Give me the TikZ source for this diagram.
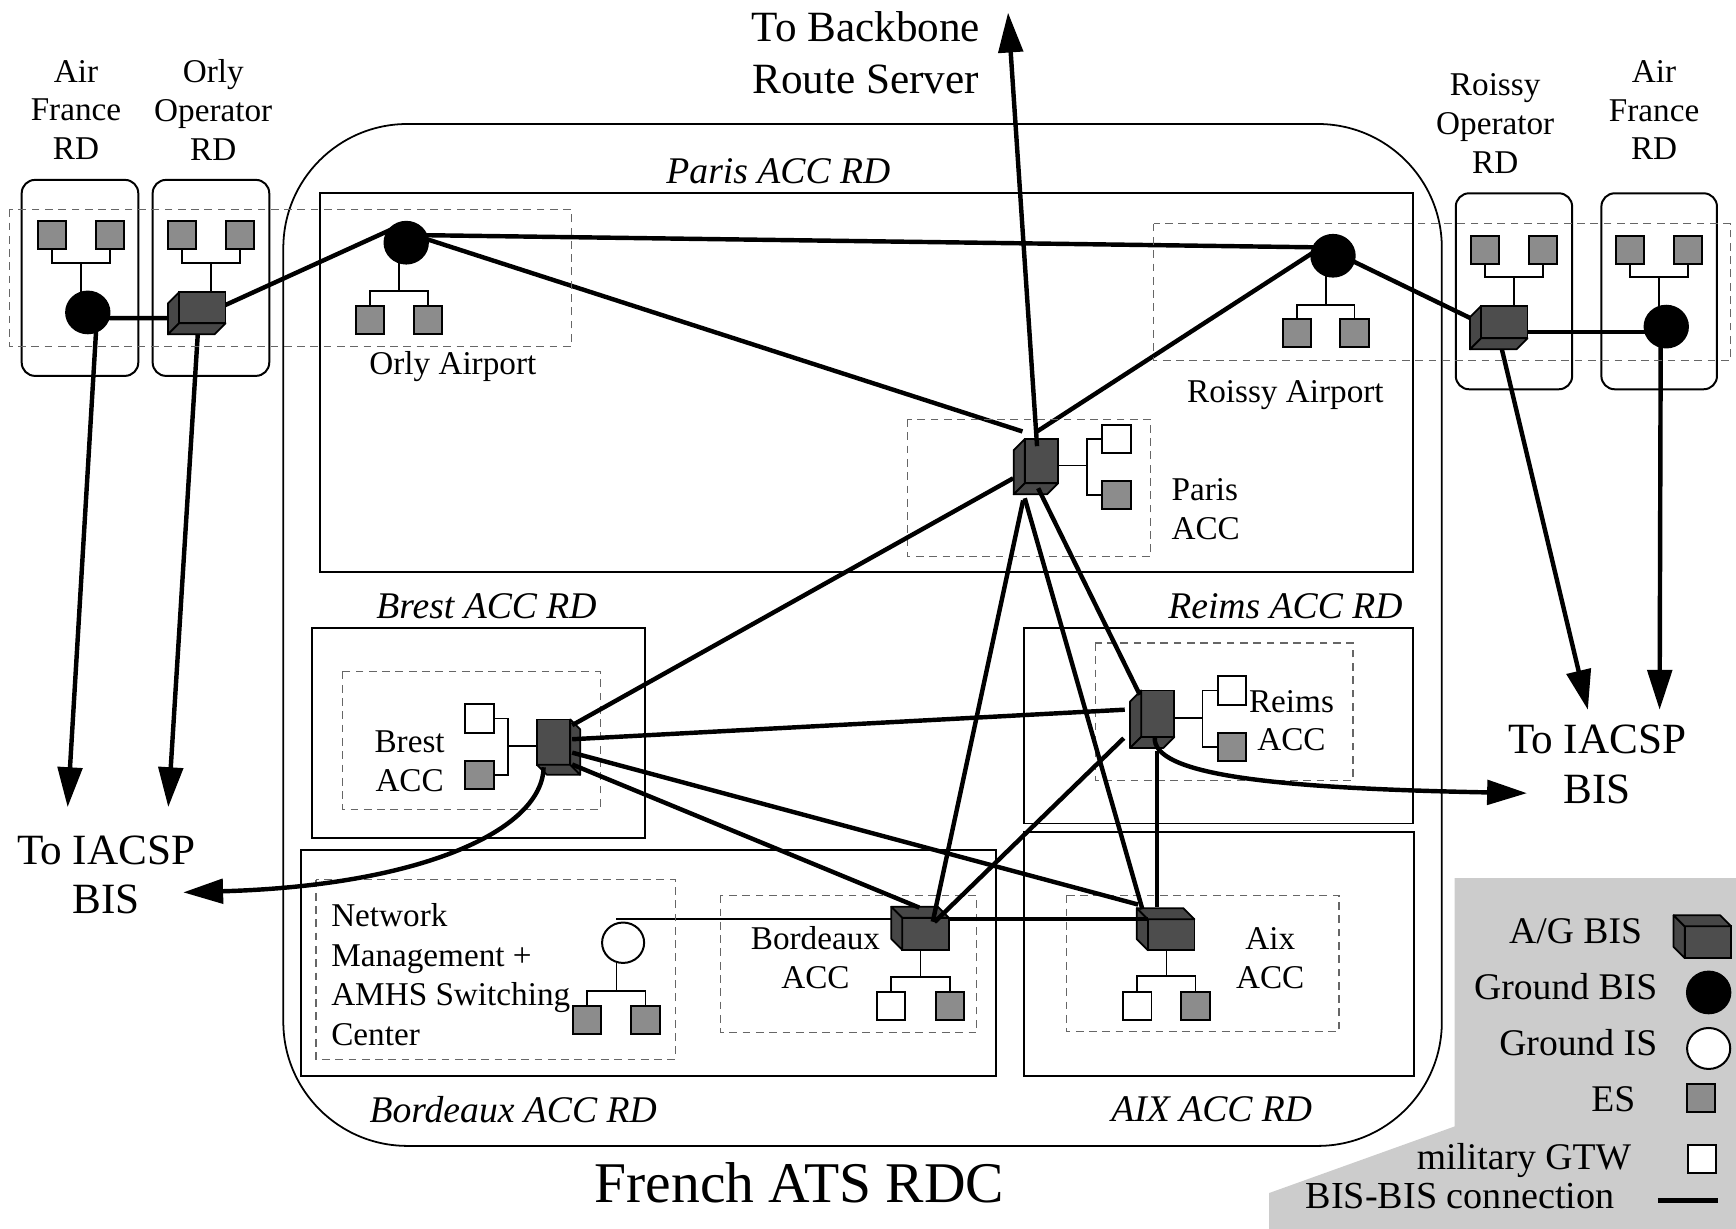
\documentclass[tikz,border=0pt]{standalone}
\usepackage{fontspec}
\setmainfont{Liberation Serif}
\usetikzlibrary{calc,arrows.meta,shapes.geometric}
\pgfdeclarelayer{bg}
\pgfsetlayers{bg,main}
\definecolor{esgray}{HTML}{8C8C8C}
\definecolor{cubegray}{HTML}{4D4D4D}
\definecolor{cubeside}{HTML}{474747}
\definecolor{leggray}{HTML}{CCCCCC}
\definecolor{dashgray}{HTML}{666666}
\tikzset{
 rdbox/.style={draw, line width=1.8pt},
 dashbox/.style={draw=dashgray, line width=1.1pt, dash pattern=on 7pt off 5pt},
 bisln/.style={line width=4pt},
 treeln/.style={line width=1.6pt},
 es/.style={draw, fill=esgray, line width=1.8pt, minimum size=25.5pt, inner sep=0pt, outer sep=0pt},
 gtw/.style={es, fill=white},
 gbis/.style={ellipse, fill=black, minimum width=41pt, minimum height=39.5pt, inner sep=0pt, outer sep=0pt},
 gis/.style={ellipse, draw, fill=white, line width=1.8pt, minimum width=38pt, minimum height=36.5pt, inner sep=0pt, outer sep=0pt},
 cubefront/.style={draw, fill=cubegray, line width=1.6pt, inner sep=0pt, outer sep=0pt},
 cubeface/.style={draw, fill=cubeside, line width=1.6pt, line join=round},
 lbl/.style={font=\fontsize{30}{35}\selectfont, align=center, inner sep=0pt},
 rdlbl/.style={font=\fontsize{34}{40}\selectfont\itshape, inner sep=0pt},
 biglbl/.style={font=\fontsize{39}{46}\selectfont, align=center, inner sep=0pt},
 leglbl/.style={font=\fontsize{34}{40}\selectfont, anchor=east, inner sep=0pt},
 arrowhd/.style={-{Triangle[length=36pt,width=22pt]}},
}
% A/G BIS cubes: front face node + two visible side faces
\newcommand\cubeDL[5]{%
 \node[cubefront,minimum width=#4pt,minimum height=#5pt] (#1) at (#2,#3) {};
 \filldraw[cubeface] (#1.north west) -- ++(-10,10) -- ($(#1.south west)+(-10,10)$) -- (#1.south west) -- cycle;
 \filldraw[cubeface] (#1.south west) -- ++(-10,10) -- ($(#1.south east)+(-10,10)$) -- (#1.south east) -- cycle;}
\newcommand\cubeUL[5]{%
 \node[cubefront,minimum width=#4pt,minimum height=#5pt] (#1) at (#2,#3) {};
 \filldraw[cubeface] (#1.south west) -- ++(-10,-10) -- ($(#1.north west)+(-10,-10)$) -- (#1.north west) -- cycle;
 \filldraw[cubeface] (#1.north west) -- ++(-10,-10) -- ($(#1.north east)+(-10,-10)$) -- (#1.north east) -- cycle;}
\newcommand\cubeDR[5]{%
 \node[cubefront,minimum width=#4pt,minimum height=#5pt] (#1) at (#2,#3) {};
 \filldraw[cubeface] (#1.north east) -- ++(9,9) -- ($(#1.south east)+(9,9)$) -- (#1.south east) -- cycle;
 \filldraw[cubeface] (#1.south west) -- ++(9,9) -- ($(#1.south east)+(9,9)$) -- (#1.south east) -- cycle;}
% trees: ES pair above a parent / below a parent
\newcommand\topTree[4]{%
 \draw[treeln] (#1.south) -- ++(0,#4) -| (#2.south);
 \coordinate (tmpc) at ($(#1.south)!0.5!(#2.south)+(0,#4)$);
 \draw[treeln] (tmpc) -- (tmpc |- #3.center);}
\newcommand\botTree[4]{%
 \draw[treeln] (#2.north) -- ++(0,-#4) -| (#3.north);
 \coordinate (tmpc) at ($(#2.north)!0.5!(#3.north)+(0,-#4)$);
 \draw[treeln] (tmpc) -- (tmpc |- #1.center);}
\begin{document}
\begin{tikzpicture}[x=1pt,y=-1pt]
\useasboundingbox (0,0) rectangle (1568,1110);
% legend background
\fill[leggray] (1313.9,793.2) -- (1568,793.2) -- (1568,1110) -- (1146.2,1110) -- (1146.2,1077.6) -- (1313.9,1017.4) -- cycle;

% routing domain boxes
\draw[rdbox, line width=1.6pt, rounded corners=112pt] (255.9,112) rectangle (1302.3,1035);
\draw[rdbox, rounded corners=12pt] (19.6,162.5) rectangle (124.9,339.5);
\draw[rdbox, rounded corners=12pt] (137.9,162.5) rectangle (243.2,339.5);
\draw[rdbox, rounded corners=12pt] (1314.9,174.6) rectangle (1420,351.6);
\draw[rdbox, rounded corners=12pt] (1446.4,174.6) rectangle (1550.8,351.6);
\draw[rdbox] (289,174.6) rectangle (1276.5,516.9);
\draw[rdbox] (282.2,567) rectangle (582.9,757);
\draw[rdbox] (925,567.2) rectangle (1276.6,743.8);
\draw[rdbox] (925,751.6) rectangle (1276.9,972);
\draw[rdbox] (271.5,767.6) rectangle (899.4,972);

% dashed site boxes
\draw[dashbox] (8.4,189) rectangle (516,313);
\draw[dashbox] (1042,202) rectangle (1563,325.7);
\draw[dashbox] (819.4,378.6) rectangle (1039.4,502.7);
\draw[dashbox] (309.2,606.6) rectangle (542.2,731.1);
\draw[dashbox] (989.4,580.8) rectangle (1222,705);
\draw[dashbox] (285.4,794.4) rectangle (610,957);
\draw[dashbox] (651,808.7) rectangle (882,932.9);
\draw[dashbox] (963,808.7) rectangle (1209.5,932);

% labels
\node[lbl] (tafl) at (68.6,99.3) {Air\\France\\RD};
\node[lbl] (toop) at (192.6,99.3) {Orly\\Operator\\RD};
\node[lbl] (trop) at (1350.5,111.5) {Roissy\\Operator\\RD};
\node[lbl] (tafr) at (1494,99.5) {Air\\France\\RD};
\node[biglbl, font=\fontsize{39}{46.7}\selectfont] (tbb) at (782,47.4) {To Backbone\\Route Server};
\node[biglbl, font=\fontsize{39}{45}\selectfont] (tial) at (96,790.2) {To IACSP\\BIS};
\node[biglbl, font=\fontsize{39}{45.4}\selectfont] (tiar) at (1442.5,690.7) {To IACSP\\BIS};
\node[lbl] (torly) at (409,331.5) {Orly Airport};
\node[lbl] (troi) at (1161,357) {Roissy Airport};
\node[lbl, align=left, anchor=west] (tpacc) at (1058,459.8) {Paris\\ACC};
\node[lbl] (tbacc) at (370,687.5) {Brest\\ACC};
\node[lbl] (trmacc) at (1166.5,651) {Reims\\ACC};
\node[lbl] (tbdacc) at (736.5,865) {Bordeaux\\ACC};
\node[lbl] (taxacc) at (1147.3,865.2) {Aix\\ACC};
\node[lbl, align=left, anchor=west, font=\fontsize{30}{35.6}\selectfont] (tnm) at (299,880.4) {Network\\Management +\\AMHS Switching\\Center};
\node[rdlbl] (rdp) at (703,155) {Paris ACC RD};
\node[rdlbl] (rdb) at (439.4,547.3) {Brest ACC RD};
\node[rdlbl] (rdr) at (1161,547.5) {Reims ACC RD};
\node[rdlbl] (rdbd) at (463.5,1002) {Bordeaux ACC RD};
\node[rdlbl] (rda) at (1094.5,1002) {AIX ACC RD};
\node[inner sep=0pt, font=\fontsize{52}{60}\selectfont] (trdc) at (722,1068) {French ATS RDC};

% legend
\node[leglbl] (lt1) at (1483.3,841.3) {A/G BIS};
\node[leglbl] (lt2) at (1497,891) {Ground BIS};
\node[leglbl] (lt3) at (1497,941.5) {Ground IS};
\node[leglbl] (lt4) at (1477.3,992.7) {ES};
\node[leglbl] (lt5) at (1473.4,1048) {military GTW};
\node[leglbl, font=\fontsize{34.5}{40}\selectfont] (lt6) at (1458.4,1080.6) {BIS-BIS connection};
\cubeUL{lcube}{1542.6}{851}{42}{28.6}
\node[gbis] (lbis) at (1543.3,896.4) {};
\node[gis, minimum width=39pt, minimum height=37pt] (lis) at (1543.3,947) {};
\node[es] (les) at (1536.6,991.8) {};
\node[gtw] (lgtw) at (1537,1047) {};
\coordinate (ll1) at (1497.5,1084.5);
\coordinate (ll2) at (1551.7,1084.5);
\draw[bisln] (ll1) -- (ll2);

% Orly side
\node[gbis] (afbis) at (79.3,282.2) {};
\node[es] (afes1) at (46.7,212.5) {};
\node[es] (afes2) at (99.3,212.5) {};
\cubeDL{oocube}{182.7}{278}{42}{28}
\node[es] (ooes1) at (164.3,212.5) {};
\node[es] (ooes2) at (216.7,212.5) {};
\node[gbis] (obis) at (366.9,219.2) {};
\node[es] (oes1) at (334.4,288.7) {};
\node[es] (oes2) at (386.7,288.7) {};
% Roissy side
\node[gbis] (rbis) at (1204,231) {};
\node[es] (res1) at (1171.5,301) {};
\node[es] (res2) at (1223.5,301) {};
\cubeDL{rocube}{1358.7}{291}{42}{29}
\node[es] (roes1) at (1341.5,225.5) {};
\node[es] (roes2) at (1394,225.5) {};
\node[gbis] (afrbis) at (1505,295) {};
\node[es] (afres1) at (1472,225.5) {};
\node[es] (afres2) at (1524.5,225.5) {};
% ACCs
\cubeDL{pcube}{940.6}{416.5}{30}{40}
\node[gtw] (pgtw) at (1008.4,396.3) {};
\node[es] (pes) at (1008.4,446.8) {};
\cubeDR{brcube}{500}{670.3}{30}{41}
\node[gtw] (brgtw) at (433,649) {};
\node[es] (bres) at (433,700) {};
\cubeDL{rmcube}{1045.7}{644.6}{30}{42}
\node[gtw] (rmgtw) at (1113,623.7) {};
\node[es] (rmes) at (1113,674.6) {};
\cubeUL{bcube}{836}{843.5}{42}{29}
\node[gtw] (bgtw) at (805,908.5) {};
\node[es] (bes) at (858,908.5) {};
\cubeUL{aixcube}{1057.8}{844.3}{42}{28}
\node[gtw] (agtw) at (1027.3,908.3) {};
\node[es] (aes) at (1079.7,908.3) {};
\node[gis] (nmis) at (562.8,851.5) {};
\node[es] (nmes1) at (530.5,921.3) {};
\node[es] (nmes2) at (583,921.3) {};

% arrow end points
\coordinate (tipL1) at (61.1,729);
\coordinate (tipL2) at (152,729);
\coordinate (tipR1) at (1434.2,641.1);
\coordinate (tipR2) at (1499,641.1);
\coordinate (tipBB) at (910.5,11.4);
\coordinate (tipC1) at (165.5,806);
\coordinate (tipC2) at (1379.2,716.4);

\begin{pgfonlayer}{bg}
% ES trees
\topTree{afes1}{afes2}{afbis}{12.5}
\topTree{ooes1}{ooes2}{oocube}{12.5}
\topTree{roes1}{roes2}{rocube}{11.75}
\topTree{afres1}{afres2}{afrbis}{11.75}
\botTree{obis}{oes1}{oes2}{13.15}
\botTree{rbis}{res1}{res2}{12.85}
\botTree{nmis}{nmes1}{nmes2}{13.55}
\botTree{bcube}{bgtw}{bes}{13.25}
\botTree{aixcube}{agtw}{aes}{13.75}
\coordinate (pbar) at ($(pcube)+(41.3,4)$);
\draw[treeln] (pgtw.west) -| (pbar) |- (pes.west);
\draw[treeln] (pbar -| pcube) -- (pbar);
\coordinate (rmbar) at ($(rmcube)+(40.5,3.8)$);
\draw[treeln] (rmgtw.west) -| (rmbar) |- (rmes.west);
\draw[treeln] (rmbar -| rmcube) -- (rmbar);
\coordinate (brbar) at ($(brcube)+(-41.2,3.7)$);
\draw[treeln] (brgtw.east) -| (brbar) |- (bres.east);
\draw[treeln] (brbar -| brcube) -- (brbar);
\draw[treeln] ($(nmis)+(-6,-21.5)$) -- ($(bcube)+(0,-13.5)$);
% BIS-BIS connections touching ground BIS
\draw[bisln] ($(afbis)+(0,5)$) -- ($(oocube)+(0,9.5)$);
\draw[bisln] ($(oocube)+(12.3,1.4)$) -- ($(obis)+(-6.9,-14.9)$);
\draw[bisln] ($(obis)+(0,-7)$) -- ($(rbis)+(0,-7.4)$);
\draw[bisln] ($(obis)+(0,-9.2)$) -- ($(pcube)+(-17.1,-26.8)$);
\draw[bisln] ($(rbis)+(0,-14.5)$) -- ($(pcube)+(-3.9,-26.8)$);
\draw[bisln] ($(rbis)+(0,-3.8)$) -- ($(rocube)+(-18.7,2.1)$);
\draw[bisln] ($(rocube)+(0,9)$) -- ($(afrbis)+(0,5)$);
% to IACSP BIS (straight)
\draw[bisln, arrowhd] ($(afbis)+(8,8)$) -- (tipL1);
\draw[bisln, arrowhd] ($(oocube)+(-3.7,18)$) -- (tipL2);
\draw[bisln, arrowhd] ($(rocube)+(-3.5,19)$) -- (tipR1);
\draw[bisln, arrowhd] ($(afrbis)+(-5,5)$) -- (tipR2);
\end{pgfonlayer}

% BIS-BIS connections between A/G BIS
\draw[bisln, arrowhd] ($(pcube)+(-3.9,-13.5)$) -- (tipBB);
\draw[bisln] ($(pcube)+(-25.5,15.5)$) -- ($(brcube)+(16.8,-15.3)$);
\draw[bisln] ($(pcube)+(-16.5,35.5)$) -- ($(bcube)+(6.5,-11)$);
\draw[bisln] ($(pcube)+(-15,33.5)$) -- ($(aixcube)+(-26,-23.1)$);
\draw[bisln] ($(pcube)+(-2.9,24.5)$) -- ($(rmcube)+(-16.2,-17)$);
\draw[bisln] ($(brcube)+(16.8,-2.6)$) -- ($(rmcube)+(-29.8,-3.6)$);
\draw[bisln] ($(brcube)+(16.8,9.5)$) -- ($(aixcube)+(-29.8,-27.3)$);
\draw[bisln] ($(brcube)+(16.8,20.2)$) -- ($(bcube)+(-5.6,-23.7)$);
\draw[bisln] ($(rmcube)+(-30.7,22.1)$) -- ($(bcube)+(8,-10.6)$);
\draw[bisln] ($(rmcube)+(-0.9,33.9)$) -- ($(aixcube)+(-13,-25.3)$);
\draw[bisln] ($(bcube)+(21,-13.5)$) -- ($(aixcube)+(-21.2,-14.3)$);
% curved connections to IACSP BIS
\draw[bisln, arrowhd] ($(brcube)+(-9,22.7)$) .. controls (490,750) and (380,800) .. (tipC1);
\draw[bisln, arrowhd] ($(rmcube)+(-2.7,21)$) .. controls (1040,700) and (1150,712) .. (tipC2);
\end{tikzpicture}
\end{document}
